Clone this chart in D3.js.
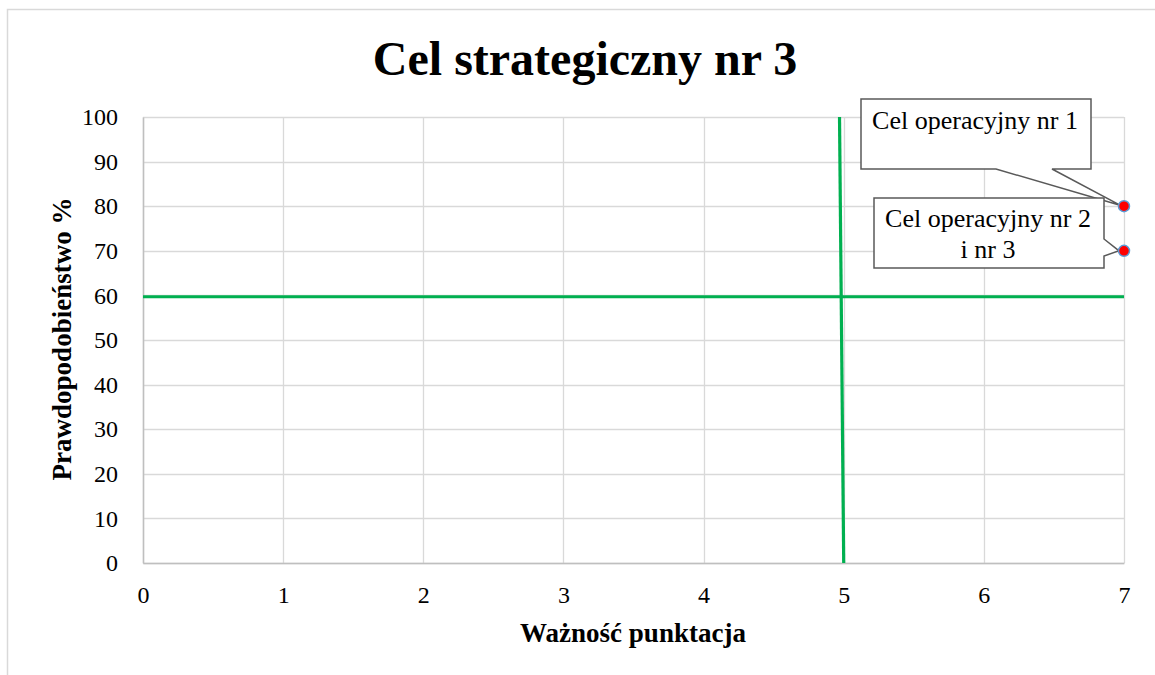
<!DOCTYPE html>
<html>
<head>
<meta charset="utf-8">
<script src="https://cdn.jsdelivr.net/npm/d3@7"></script>
<style>
  html, body { margin: 0; padding: 0; background: #fff; }
  svg { display: block; font-family: "Liberation Serif", "Times New Roman", serif; }
</style>
</head>
<body>
<svg id="chart" width="1155" height="675"></svg>
<script>
// Chart content
const chartTitle = "Cel strategiczny nr 3";
const xTitle = "Ważność punktacja";
const yTitle = "Prawdopodobieństwo %";
const xTicks = [0, 1, 2, 3, 4, 5, 6, 7];
const yTicks = [0, 10, 20, 30, 40, 50, 60, 70, 80, 90, 100];

// Threshold lines (x, y pairs)
const horizontalLine = [[0, 59.7], [7, 59.7]];
const verticalLine = [[4.97, 100], [5.0, 0]];

// Goal points
const pointLabels = ["Cel operacyjny nr 1", "Cel operacyjny nr 2\ni nr 3"];
const pointX = [7, 7];
const pointY = [80, 70];

const svg = d3.select("#chart");
const W = 1155, H = 675;
const plot = { left: 143, right: 1124, top: 117, bottom: 563 };

const x = d3.scaleLinear().domain([0, 7]).range([plot.left, plot.right]);
const y = d3.scaleLinear().domain([0, 100]).range([plot.bottom, plot.top]);

// Chart area frame
svg.append("rect")
  .attr("x", 7.5).attr("y", 9.5)
  .attr("width", W + 10).attr("height", H + 10)
  .attr("fill", "#fff").attr("stroke", "#d9d9d9").attr("stroke-width", 1.5);

// Gridlines
const grid = svg.append("g");
grid.selectAll("line.gx").data(xTicks).join("line")
  .attr("x1", d => Math.round(x(d)) + 0.5).attr("x2", d => Math.round(x(d)) + 0.5)
  .attr("y1", plot.top).attr("y2", plot.bottom)
  .attr("stroke", "#d9d9d9").attr("stroke-width", 1.3);
grid.selectAll("line.gy").data(yTicks).join("line")
  .attr("y1", d => Math.round(y(d)) + 0.5).attr("y2", d => Math.round(y(d)) + 0.5)
  .attr("x1", plot.left).attr("x2", plot.right)
  .attr("stroke", "#d9d9d9").attr("stroke-width", 1.3);

// Axes
const xAxis = svg.append("g")
  .attr("transform", `translate(0,${plot.bottom})`)
  .call(d3.axisBottom(x).tickValues(xTicks).tickFormat(d3.format("d")).tickSize(0).tickPadding(23));
xAxis.select(".domain").attr("stroke", "#bfbfbf").attr("stroke-width", 1.5);
xAxis.selectAll("text").attr("font-size", 24).attr("fill", "#000")
  .attr("font-family", "Liberation Serif, serif");

const yAxis = svg.append("g")
  .attr("transform", `translate(${plot.left},0)`)
  .call(d3.axisLeft(y).tickValues(yTicks).tickFormat(d3.format("d")).tickSize(0).tickPadding(25));
yAxis.select(".domain").attr("stroke", "#bfbfbf").attr("stroke-width", 1.5);
yAxis.selectAll("text").attr("font-size", 24).attr("fill", "#000")
  .attr("font-family", "Liberation Serif, serif");

// Threshold lines
const line = d3.line().x(d => x(d[0])).y(d => y(d[1]));
[horizontalLine, verticalLine].forEach(seg => {
  svg.append("path").attr("d", line(seg))
    .attr("fill", "none").attr("stroke", "#00b050").attr("stroke-width", 3.2);
});

// Callouts (wedge-shaped label boxes pointing to each point)
function calloutBottom(box, tip, w1, w2) {
  return `M${box.x},${box.y}H${box.x + box.w}V${box.y + box.h}H${w2}L${tip[0]},${tip[1]}L${w1},${box.y + box.h}H${box.x}Z`;
}
function calloutRight(box, tip, h1, h2) {
  return `M${box.x},${box.y}H${box.x + box.w}V${h1}L${tip[0]},${tip[1]}L${box.x + box.w},${h2}V${box.y + box.h}H${box.x}Z`;
}
const tip0 = [x(pointX[0]) - 4, y(pointY[0]) - 1];
const tip1 = [x(pointX[1]) - 5, y(pointY[1])];
const box0 = { x: 861, y: 99, w: 230, h: 70 };
const box1 = { x: 874, y: 198, w: 230, h: 70 };

const callouts = svg.append("g");
callouts.append("path").attr("d", calloutBottom(box0, tip0, 996, 1052))
  .attr("fill", "#fff").attr("stroke", "#595959").attr("stroke-width", 1.5);
callouts.append("path").attr("d", calloutRight(box1, tip1, 239, 256))
  .attr("fill", "#fff").attr("stroke", "#595959").attr("stroke-width", 1.5);

const lbl0 = callouts.append("text").attr("x", 975).attr("y", 129)
  .attr("text-anchor", "middle").attr("font-size", 26);
pointLabels[0].split("\n").forEach((t, i) =>
  lbl0.append("tspan").attr("x", 975).attr("dy", i ? 31 : 0).text(t));
const lbl1 = callouts.append("text").attr("x", 988).attr("y", 227)
  .attr("text-anchor", "middle").attr("font-size", 26);
pointLabels[1].split("\n").forEach((t, i) =>
  lbl1.append("tspan").attr("x", 988).attr("dy", i ? 31 : 0).text(t));

// Points
svg.append("g").selectAll("circle").data(pointX.map((d, i) => [d, pointY[i]])).join("circle")
  .attr("cx", d => x(d[0])).attr("cy", d => y(d[1])).attr("r", 5.5)
  .attr("fill", "#ff0000").attr("stroke", "#5b9bd5").attr("stroke-width", 1.5);

// Titles
svg.append("text").attr("x", 585).attr("y", 75).attr("text-anchor", "middle")
  .attr("font-size", 48).attr("font-weight", "bold").text(chartTitle);
svg.append("text").attr("x", 633).attr("y", 642).attr("text-anchor", "middle")
  .attr("font-size", 27).attr("font-weight", "bold").text(xTitle);
svg.append("text").attr("transform", "translate(71,339) rotate(-90)")
  .attr("text-anchor", "middle").attr("font-size", 27).attr("font-weight", "bold").text(yTitle);
</script>
</body>
</html>
